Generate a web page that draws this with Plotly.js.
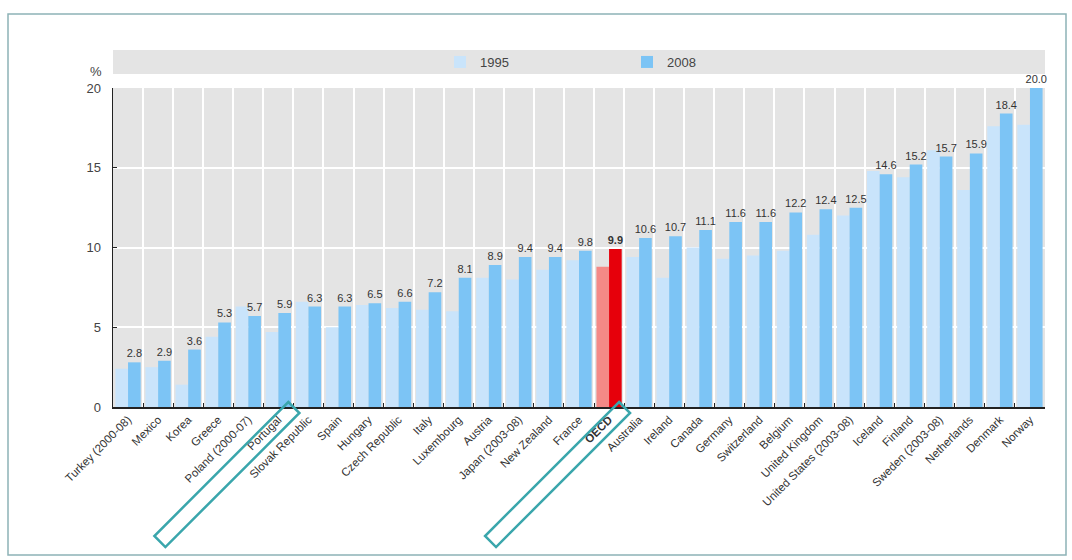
<!DOCTYPE html>
<html>
<head>
<meta charset="utf-8">
<script src="https://cdn.plot.ly/plotly-3.0.1.min.js"></script>
<style>
  html, body { margin: 0; padding: 0; background: #ffffff; }
  #chart { width: 1072px; height: 560px; }
</style>
</head>
<body>
<div id="chart"></div>
<script>
// Countries, ordered by the 2008 share
const countries = [
  "Turkey (2000-08)", "Mexico", "Korea", "Greece", "Poland (2000-07)", "Portugal",
  "Slovak Republic", "Spain", "Hungary", "Czech Republic", "Italy", "Luxembourg",
  "Austria", "Japan (2003-08)", "New Zealand", "France", "OECD", "Australia",
  "Ireland", "Canada", "Germany", "Switzerland", "Belgium", "United Kingdom",
  "United States (2003-08)", "Iceland", "Finland", "Sweden (2003-08)",
  "Netherlands", "Denmark", "Norway"
];

// Share in %, 1995
const values1995 = [
  2.4, 2.5, 1.4, 4.4, 6.3, 4.7,
  6.6, 5.0, 6.4, 6.2, 6.1, 6.0,
  8.1, 8.0, 8.6, 9.2, 8.8, 9.4,
  8.1, 10.0, 9.3, 9.5, 9.8, 10.8,
  12.0, 14.8, 14.4, 16.1, 13.6, 17.6, 17.7
];

// Share in %, 2008
const values2008 = [
  2.8, 2.9, 3.6, 5.3, 5.7, 5.9,
  6.3, 6.3, 6.5, 6.6, 7.2, 8.1,
  8.9, 9.4, 9.4, 9.8, 9.9, 10.6,
  10.7, 11.1, 11.6, 11.6, 12.2, 12.4,
  12.5, 14.6, 15.2, 15.7, 15.9, 18.4, 20.0
];

const seriesNames = ["1995", "2008"];
const highlighted = ["Portugal", "OECD"];
const average = "OECD";

// Colours
const c1995 = "#c9e4fb", c2008 = "#7cc4f5";
const cAvg1995 = "#f48986", cAvg2008 = "#e6000b";
const bandGrey = "#e4e4e4";

// Plot area in pixels
const W = 1072, H = 560;
const M = { l: 113, r: 27, t: 88, b: 153 };
const PW = W - M.l - M.r, PH = H - M.t - M.b;
const px2x = p => (p - M.l) / PW;
const px2y = p => (H - M.b - p) / PH;

const isAvg = countries.map(c => c === average);
const tickText = countries.map(c => c === average ? "<b>" + c + "</b>" : c);
const labels2008 = values2008.map((v, i) => isAvg[i] ? "<b>" + v.toFixed(1) + "</b>" : v.toFixed(1));

const sans = "Liberation Sans Narrow, Arial Narrow, Liberation Sans, Arial, sans-serif";

const traces = [
  {
    type: "bar", name: seriesNames[0], x: countries, y: values1995,
    marker: { color: countries.map((c, i) => isAvg[i] ? cAvg1995 : c1995) },
    hoverinfo: "x+y"
  },
  {
    type: "bar", name: seriesNames[1], x: countries, y: values2008,
    marker: { color: countries.map((c, i) => isAvg[i] ? cAvg2008 : c2008) },
    text: labels2008, textposition: "outside", constraintext: "none",
    cliponaxis: false,
    textfont: { family: sans, size: 11, color: "#333333" },
    hoverinfo: "x+y"
  }
];

// Tilted outline drawn around a highlighted tick label
function labelBox(name) {
  const i = countries.indexOf(name);
  const cx = M.l + (i + 0.5) * PW / countries.length;
  const top = [cx + 10, H - M.b - 5];
  const w = 11, L = 134;
  const pts = [
    top,
    [top[0] + w, top[1] + w],
    [top[0] + w - L, top[1] + w + L],
    [top[0] - L, top[1] + L]
  ];
  const d = pts.map((p, k) => (k ? "L" : "M") + px2x(p[0]).toFixed(4) + "," + px2y(p[1]).toFixed(4)).join(" ") + " Z";
  return {
    type: "path", xref: "paper", yref: "paper", path: d,
    line: { color: "#3aa6ac", width: 2.5 }, fillcolor: "rgba(0,0,0,0)", layer: "above"
  };
}

const shapes = [
  // outer frame
  {
    type: "rect", xref: "paper", yref: "paper",
    x0: px2x(8), x1: px2x(1066), y0: px2y(555), y1: px2y(14),
    line: { color: "#8db3b7", width: 1.5 }, fillcolor: "rgba(0,0,0,0)", layer: "below"
  },
  // legend band
  {
    type: "rect", xref: "paper", yref: "paper",
    x0: 0, x1: 1, y0: px2y(74), y1: px2y(50),
    line: { width: 0 }, fillcolor: bandGrey, layer: "below"
  },
  ...highlighted.map(labelBox)
];

const layout = {
  width: W, height: H,
  margin: M,
  paper_bgcolor: "#ffffff",
  plot_bgcolor: bandGrey,
  barmode: "group",
  bargap: 0.16,
  bargroupgap: 0,
  font: { family: sans, color: "#333333" },
  showlegend: true,
  legend: {
    orientation: "h",
    x: px2x(440), xanchor: "left",
    y: px2y(62), yanchor: "middle",
    bgcolor: "rgba(0,0,0,0)",
    entrywidth: 142, entrywidthmode: "pixels",
    font: { family: "Liberation Sans, Arial, sans-serif", size: 13, color: "#444444" },
    traceorder: "normal"
  },
  xaxis: {
    type: "category",
    tickmode: "array", tickvals: countries, ticktext: tickText,
    tickangle: -45,
    tickson: "boundaries",
    ticks: "inside", ticklen: 4, tickcolor: "#222222", tickwidth: 1,
    showgrid: true, gridcolor: "#ffffff", gridwidth: 2,
    showline: true, linecolor: "#222222", linewidth: 1.5,
    tickfont: { family: sans, size: 11.5, color: "#333333" },
    fixedrange: true
  },
  yaxis: {
    range: [0, 20], tickvals: [0, 5, 10, 15, 20],
    ticks: "inside", ticklen: 4, tickcolor: "#222222",
    showgrid: true, gridcolor: "#ffffff", gridwidth: 2,
    zeroline: false,
    showline: true, linecolor: "#222222", linewidth: 1.5,
    tickfont: { family: "Liberation Sans, Arial, sans-serif", size: 13, color: "#444444" },
    ticklabelstandoff: 8,
    fixedrange: true
  },
  annotations: [
    {
      text: "%", xref: "paper", yref: "paper",
      x: px2x(96), y: px2y(71), xanchor: "center", yanchor: "middle",
      showarrow: false,
      font: { family: "Liberation Sans, Arial, sans-serif", size: 13, color: "#444444" }
    }
  ],
  shapes: shapes
};

Plotly.newPlot("chart", traces, layout, { displayModeBar: false, staticPlot: true });
</script>
</body>
</html>
